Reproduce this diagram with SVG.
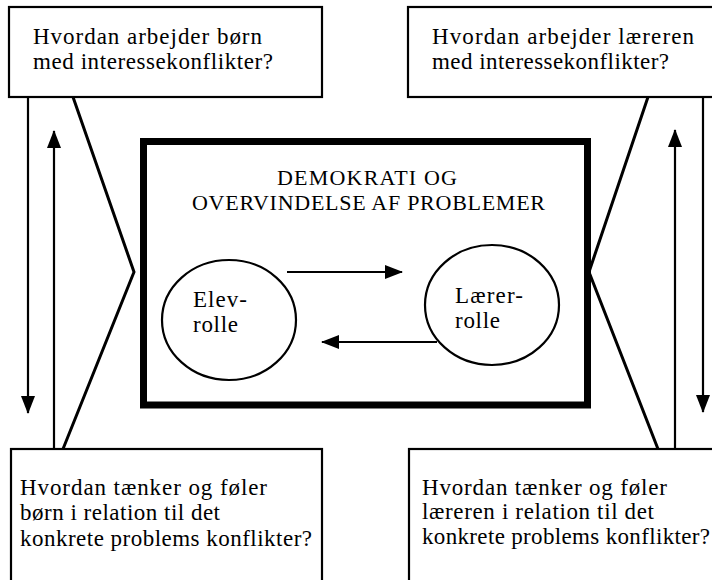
<svg xmlns="http://www.w3.org/2000/svg" width="712" height="580" viewBox="0 0 712 580">
<style>
  .box{fill:#fff;stroke:#000;stroke-width:2.2}
  .main{fill:#fff;stroke:#000;stroke-width:7}
  .role{fill:#fff;stroke:#000;stroke-width:2.2}
  .t{font-family:"Liberation Serif","Times New Roman",serif;font-size:23px;fill:#000}
  .h{font-family:"Liberation Serif","Times New Roman",serif;font-size:22px;fill:#000}
  .ln{fill:none;stroke:#000;stroke-width:2.2}
  .ch{fill:none;stroke:#000;stroke-width:3;stroke-linejoin:miter}
</style>
<defs>
  <marker id="ah" markerUnits="userSpaceOnUse" markerWidth="18" markerHeight="14" viewBox="0 0 18 14" refX="17" refY="7" orient="auto">
    <path d="M0,0 L18,7 L0,14 Z" fill="#000"/>
  </marker>
</defs>
<rect width="712" height="580" fill="#fff"/>

<g id="box-born-interesse">
  <rect class="box" x="9" y="7" width="313" height="90"/>
  <text class="t" x="33" y="44" textLength="229">Hvordan arbejder børn</text>
  <text class="t" x="33" y="69" textLength="240">med interessekonflikter?</text>
</g>

<g id="box-laerer-interesse">
  <rect class="box" x="408" y="7" width="320" height="90"/>
  <text class="t" x="432" y="44" textLength="262">Hvordan arbejder læreren</text>
  <text class="t" x="432" y="69" textLength="237">med interessekonflikter?</text>
</g>

<g id="box-born-tanker">
  <rect class="box" x="11" y="449" width="311" height="150"/>
  <text class="t" x="20" y="495" textLength="247">Hvordan tænker og føler</text>
  <text class="t" x="20" y="520" textLength="200">børn i relation til det</text>
  <text class="t" x="20" y="546" textLength="292">konkrete problems konflikter?</text>
</g>

<g id="box-laerer-tanker">
  <rect class="box" x="409" y="449" width="320" height="150"/>
  <text class="t" x="422" y="495" textLength="245">Hvordan tænker og føler</text>
  <text class="t" x="422" y="519" textLength="232">læreren i relation til det</text>
  <text class="t" x="422" y="544" textLength="288">konkrete problems konflikter?</text>
</g>

<g id="demokrati">
  <rect class="main" x="143.5" y="141.5" width="444" height="263.5"/>
  <text class="h" x="277" y="185" textLength="180">DEMOKRATI OG</text>
  <text class="h" x="192" y="210" textLength="353">OVERVINDELSE AF PROBLEMER</text>
</g>

<g id="elevrolle">
  <ellipse class="role" cx="229" cy="320" rx="67" ry="60"/>
  <text class="t" x="193" y="307" textLength="54">Elev-</text>
  <text class="t" x="193" y="332" textLength="45">rolle</text>
</g>

<g id="laererrolle">
  <ellipse class="role" cx="492" cy="305" rx="67" ry="60"/>
  <text class="t" x="455" y="303" textLength="68">Lærer-</text>
  <text class="t" x="455" y="328" textLength="45">rolle</text>
</g>

<g id="connectors">
  <polyline class="ch" points="73,97 134,272 63,449"/>
  <polyline class="ch" points="648,97 589,272 658,449"/>
  <line class="ln" x1="28" y1="97" x2="28" y2="413" marker-end="url(#ah)"/>
  <line class="ln" x1="54" y1="449" x2="54" y2="131" marker-end="url(#ah)"/>
  <line class="ln" x1="703" y1="97" x2="703" y2="412" marker-end="url(#ah)"/>
  <line class="ln" x1="675" y1="449" x2="675" y2="130" marker-end="url(#ah)"/>
  <line class="ln" x1="287" y1="272" x2="402" y2="272" marker-end="url(#ah)"/>
  <line class="ln" x1="437" y1="342" x2="322" y2="342" marker-end="url(#ah)"/>
</g>
</svg>
